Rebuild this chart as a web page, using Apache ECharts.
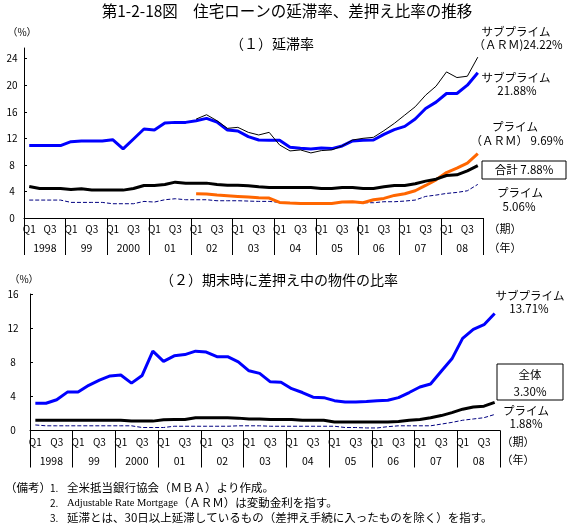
<!DOCTYPE html>
<html>
<head>
<meta charset="utf-8">
<script src="https://cdn.jsdelivr.net/npm/echarts@6/dist/echarts.min.js"></script>
<style>
html,body{margin:0;padding:0;background:#fff;}
#chart{width:571px;height:525px;}
</style>
</head>
<body>
<div id="chart"></div>
<script>
// 年と四半期
const years = ['1998','99','2000','01','02','03','04','05','06','07','08'];
const quarters = ['Q1','Q2','Q3','Q4'];

// (1) 延滞率 (%)
const subprimeArm = [null,null,null,null, null,null,null,null, null,null,null,null, null,null,null,null,
  14.9,15.55,14.65,13.5, 13.65,12.9,12.5,12.9, 11.0,10.1,10.25,9.8, 10.15,10.25,10.85,11.75,
  12.0,12.15,13.15,14.25, 15.5,16.75,18.5,19.85, 22.0,21.15,21.35,24.22];
const subprime = [10.9,10.9,10.9,10.9, 11.5,11.6,11.6,11.6, 11.8,10.4,11.9,13.4, 13.25,14.3,14.4,14.4,
  14.65,15.0,14.45,13.25, 13.1,12.25,11.75,11.7, 11.7,10.65,10.5,10.4, 10.55,10.45,10.85,11.6,
  11.7,11.75,12.6,13.3, 13.8,14.9,16.5,17.45, 18.75,18.75,20.0,21.88];
const primeArm = [null,null,null,null, null,null,null,null, null,null,null,null, null,null,null,null,
  3.65,3.6,3.45,3.35, 3.25,3.15,3.05,3.0, 2.35,2.25,2.2,2.2, 2.2,2.2,2.4,2.45,
  2.3,2.75,2.95,3.4, 3.65,4.1,4.9,5.75, 6.85,7.5,8.25,9.69];
const total = [4.75,4.45,4.45,4.45, 4.3,4.4,4.2,4.2, 4.2,4.2,4.45,4.9, 4.9,5.05,5.4,5.25,
  5.25,5.25,5.05,4.95, 4.95,4.85,4.7,4.6, 4.6,4.6,4.6,4.6, 4.45,4.45,4.6,4.6,
  4.45,4.45,4.7,4.9, 4.9,5.15,5.55,5.85, 6.4,6.5,7.1,7.88];
const prime = [2.7,2.7,2.7,2.7, 2.35,2.35,2.35,2.35, 2.15,2.15,2.15,2.5, 2.4,2.75,2.9,2.75,
  2.75,2.75,2.6,2.6, 2.6,2.55,2.5,2.5, 2.35,2.3,2.3,2.3, 2.3,2.3,2.35,2.35,
  2.3,2.3,2.45,2.45, 2.55,2.7,3.25,3.45, 3.7,3.85,4.1,5.06];

// (2) 期末時に差押え中の物件の比率 (%)
const fcSubprime = [3.2,3.2,3.6,4.5, 4.5,5.3,5.9,6.4, 6.5,5.55,6.45,9.3, 8.1,8.75,8.9,9.3,
  9.2,8.65,8.65,8.05, 7.0,6.7,5.7,5.65, 4.9,4.45,3.9,3.85, 3.5,3.35,3.35,3.4,
  3.5,3.55,3.85,4.45, 5.1,5.45,6.95,8.4, 10.8,11.85,12.4,13.71];
const fcTotal = [1.2,1.2,1.2,1.2, 1.2,1.2,1.2,1.2, 1.2,1.1,1.1,1.1, 1.25,1.3,1.3,1.5,
  1.5,1.5,1.5,1.45, 1.35,1.35,1.3,1.3, 1.3,1.2,1.2,1.2, 1.0,1.0,1.0,1.0,
  1.0,1.0,1.05,1.2, 1.3,1.5,1.75,2.1, 2.5,2.75,2.85,3.30];
const fcPrime = [0.65,0.55,0.55,0.55, 0.55,0.55,0.55,0.55, 0.55,0.55,0.35,0.35, 0.35,0.5,0.5,0.5,
  0.5,0.5,0.5,0.55, 0.55,0.55,0.5,0.5, 0.5,0.5,0.5,0.5, 0.5,0.35,0.35,0.3,
  0.3,0.45,0.55,0.55, 0.55,0.55,0.75,0.95, 1.2,1.35,1.5,1.88];

// 縦軸の目盛
const yTicks1 = [0,4,8,12,16,20,24];
const yTicks2 = [0,4,8,12,16];

const FONT = '"Noto Sans CJK JP", sans-serif';
const categories = [];
years.forEach(y => quarters.forEach(q => categories.push(y + ' ' + q)));
const last = arr => arr[arr.length - 1].toFixed(2) + '%';

function quarterAxis(grid, margin){
    return {
        type:'category', gridIndex:grid, data:categories, boundaryGap:true, position:'bottom',
        axisLine:{show:true, lineStyle:{color:'#000', width:1}},
        axisTick:{show:false},
        axisLabel:{
            interval:0, margin:margin, fontSize:10, color:'#000', fontFamily:FONT,
            formatter:(v)=>{
                const q = v.split(' ')[1];
                return (q === 'Q1' || q === 'Q3') ? q : '';
            }
        }
    };
}
function yearAxis(grid, margin){
    return {
        type:'category', gridIndex:grid, data:years, boundaryGap:true, position:'bottom',
        axisLine:{show:false},
        axisTick:{show:true, interval:0, length:37, lineStyle:{color:'#000', width:1}},
        axisLabel:{interval:0, margin:margin, fontSize:10.5, color:'#000', fontFamily:FONT}
    };
}
function line(name, data, xi, yi, color, width, type, z){
    return {
        name:name, type:'line', data:data, xAxisIndex:xi, yAxisIndex:yi,
        symbol:'none', silent:true, z:z, connectNulls:false,
        lineStyle:{color:color, width:width, type:type}
    };
}
function txt(x, y, text, size, align, extra){
    return {
        type:'text', x:x, y:y, silent:true,
        style:Object.assign({
            text:text, fill:'#000', fontSize:size || 11.5, fontFamily:FONT,
            align:align || 'center', verticalAlign:'middle'
        }, extra || {})
    };
}

const myChart = echarts.init(document.getElementById('chart'));
const option = {
    animation:false,
    backgroundColor:'#fff',
    grid:[
        {left:24, right:88, top:48, bottom:307},
        {left:30, right:71, top:294, bottom:94.5}
    ],
    xAxis:[
        quarterAxis(0, 6), yearAxis(0, 25),
        quarterAxis(1, 7), yearAxis(1, 25)
    ],
    yAxis:[
        {
            type:'value', gridIndex:0, min:0, max:25.6, interval:4,
            axisLine:{show:true, lineStyle:{color:'#000'}},
            axisTick:{show:true, inside:true, length:3, customValues:yTicks1, lineStyle:{color:'#000'}},
            axisLabel:{customValues:yTicks1, align:'center', margin:12, fontSize:10, color:'#000', fontFamily:FONT},
            splitLine:{show:false}
        },
        {
            type:'value', gridIndex:1, min:0, max:16, interval:4,
            axisLine:{show:true, lineStyle:{color:'#000'}},
            axisTick:{show:true, inside:true, length:3, lineStyle:{color:'#000'}},
            axisLabel:{align:'center', margin:17, fontSize:10, color:'#000', fontFamily:FONT},
            splitLine:{show:false}
        }
    ],
    series:[
        line('プライム', prime, 0, 0, '#000080', 1, [4,2], 2),
        line('プライム（ARM）', primeArm, 0, 0, '#FF6600', 3, 'solid', 3),
        line('合計', total, 0, 0, '#000', 3, 'solid', 4),
        line('サブプライム', subprime, 0, 0, '#0000FF', 3, 'solid', 5),
        line('サブプライム（ARM）', subprimeArm, 0, 0, '#000', 1, 'solid', 6),

        line('プライム', fcPrime, 2, 1, '#000080', 1, [4,2], 2),
        line('全体', fcTotal, 2, 1, '#000', 3, 'solid', 3),
        line('サブプライム', fcSubprime, 2, 1, '#0000FF', 3, 'solid', 4)
    ],
    graphic:[
        txt(287, 11, '第1-2-18図　住宅ローンの延滞率、差押え比率の推移', 15.5),
        txt(272, 44, '（１）延滞率', 14),
        txt(279, 280, '（２）期末時に差押え中の物件の比率', 14),
        txt(22, 32, '（%）', 10),
        txt(24, 279, '（%）', 10),

        txt(505, 229, '（期）', 11),
        txt(505, 248, '（年）', 11),
        txt(518, 442, '（期）', 11),
        txt(518, 460, '（年）', 11),

        // (1) の系列名
        txt(516, 32, 'サブプライム'),
        txt(518, 45, '（ＡＲＭ)' + last(subprimeArm)),
        txt(516, 78, 'サブプライム'),
        txt(517, 91, last(subprime)),
        txt(515, 127, 'プライム'),
        txt(517, 141, '（ＡＲＭ） ' + last(primeArm)),
        {type:'rect', shape:{x:482, y:161, width:84, height:18}, style:{fill:'#fff', stroke:'#000', lineWidth:1}, silent:true},
        txt(524, 170, '合計 ' + last(total)),
        txt(520, 193, 'プライム'),
        txt(519, 207, last(prime)),

        // (2) の系列名
        txt(530, 296, 'サブプライム'),
        txt(529, 309, last(fcSubprime)),
        {type:'rect', shape:{x:497, y:364, width:66, height:36}, style:{fill:'#fff', stroke:'#000', lineWidth:1}, silent:true},
        txt(530, 375, '全体'),
        txt(530, 392, last(fcTotal)),
        txt(526, 411, 'プライム'),
        txt(526, 424, last(fcPrime)),

        // 備考
        txt(5, 488, '（備考）', 11.5, 'left'),
        txt(50, 488, '1.', 10, 'left'),
        txt(50, 503, '2.', 10, 'left'),
        txt(50, 518, '3.', 10, 'left'),
        txt(67, 488, '全米抵当銀行協会（ＭＢＡ）より作成。', 11.5, 'left'),
        txt(67, 503, '{s|Adjustable Rate Mortgage}（ＡＲＭ）は変動金利を指す。', 11.5, 'left',
            {rich:{s:{fontFamily:'"Liberation Serif", serif', fontSize:10.5, fill:'#000'}}}),
        txt(67, 518, '延滞とは、30日以上延滞しているもの（差押え手続に入ったものを除く）を指す。', 11.5, 'left')
    ]
};
myChart.setOption(option);
</script>
</body>
</html>
